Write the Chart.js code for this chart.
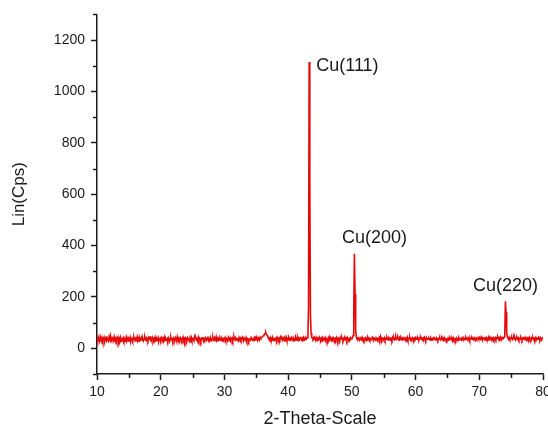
<!DOCTYPE html>
<html><head><meta charset="utf-8">
<script src="https://cdn.jsdelivr.net/npm/chart.js@4.4.0/dist/chart.umd.min.js"></script>
<style>html,body{margin:0;padding:0;background:#fff}canvas{display:block}</style>
</head><body>
<canvas id="c" width="548" height="430"></canvas>
<script>
// 2-theta grid: 10.0 .. 80.0 deg, step 0.1 deg (one row = one degree)
const startAngle = 10.0;
const stepAngle = 0.1;
const intensity = [
38,29,43,35,28,45,36,32,41,29,
35,42,27,37,46,31,40,34,29,44,
36,49,32,28,41,37,30,45,35,31,
40,29,36,43,26,38,32,42,28,36,
34,41,30,37,27,35,44,31,38,29,
37,32,42,28,36,40,30,35,43,34,
29,38,35,45,31,37,28,41,34,36,
42,32,38,29,36,44,35,30,40,37,
31,41,35,47,33,38,29,42,36,32,
40,35,43,30,37,33,41,28,36,39,
32,42,36,29,40,35,44,31,38,33,
37,30,41,35,27,38,43,33,36,29,
40,35,32,42,37,29,45,36,31,38,
33,41,36,30,38,44,32,37,28,40,
36,31,42,38,33,29,41,35,43,32,
38,35,30,44,36,41,33,37,29,42,
32,40,36,28,38,35,43,30,37,33,
41,36,32,40,46,31,37,35,42,29,
35,38,43,33,30,40,36,45,32,37,
30,37,33,41,36,31,40,35,27,38,
36,42,32,38,35,29,43,37,33,40,
32,36,41,30,38,45,35,31,40,36,
38,33,29,42,36,40,32,37,43,35,
30,40,36,33,41,31,38,35,28,37,
36,32,42,38,35,30,37,41,33,40,
35,38,31,41,36,34,43,39,41,44,
44,49,50,56,57,61,54,51,45,42,
40,36,42,33,38,32,41,36,30,37,
35,40,32,42,37,29,38,33,43,36,
38,32,41,36,30,40,35,44,33,37,
33,42,36,31,38,35,41,37,29,40,
36,32,43,37,33,40,30,38,35,41,
37,33,40,36,42,32,38,35,41,37,
41,45,160,1115,640,130,60,44,39,36,
41,35,38,32,42,36,40,33,37,43,
36,32,40,35,41,31,38,36,42,33,
38,35,30,41,36,44,33,37,32,40,
35,41,37,31,38,33,42,36,29,40,
37,32,41,36,43,35,30,38,33,41,
36,40,32,42,37,33,38,35,41,36,
38,41,50,140,368,210,70,44,38,35,
40,36,32,41,37,33,42,35,38,31,
37,41,35,38,32,42,36,40,33,37,
35,38,43,36,32,40,37,33,41,36,
38,33,37,42,35,46,36,32,40,37,
36,41,32,38,35,43,37,33,40,36,
40,35,38,32,42,36,41,33,37,44,
35,38,43,36,32,40,35,42,37,33,
38,35,41,37,32,40,36,43,33,38,
36,42,33,38,35,41,37,32,40,36,
41,35,38,44,36,33,40,37,42,35,
37,33,40,36,43,38,32,41,35,37,
35,40,36,32,41,37,33,38,36,42,
38,33,37,41,35,31,38,36,40,33,
36,40,33,37,32,41,35,38,36,31,
37,32,38,35,41,36,33,37,30,40,
33,38,36,31,40,35,37,32,41,36,
38,35,32,41,36,33,40,37,35,42,
36,40,35,37,43,33,38,36,41,35,
37,33,41,36,32,40,35,38,42,36,
35,40,36,44,37,33,41,38,35,40,
37,42,35,38,33,41,36,43,37,35,
40,36,41,33,38,42,35,40,37,43,
36,41,37,44,38,35,42,39,39,44,
52,183,140,62,45,40,37,43,36,40,
37,42,35,40,44,36,41,33,38,42,
36,41,33,38,35,43,37,32,40,36,
38,35,42,37,33,41,36,40,35,43,
37,33,40,36,42,35,38,32,41,36,
40,35,38,43,36,33,41,37,35,40,
37
];
const twoTheta = intensity.map((_, i) => +(startAngle + i * stepAngle).toFixed(1));

const xMajorTicks = [10, 20, 30, 40, 50, 60, 70, 80];
const xMinorTicks = [15, 25, 35, 45, 55, 65, 75];
const yMajorTicks = [0, 200, 400, 600, 800, 1000, 1200];
const yMinorTicks = [-100, 100, 300, 500, 700, 900, 1100, 1300];

const peakLabels = ['Cu(111)', 'Cu(200)', 'Cu(220)'];
const peakLabelAngle = [49.3, 53.55, 74.1];
const peakLabelLevel = [1100, 431, 242];

const FONT = '"Liberation Sans", Arial, sans-serif';
const AXIS = '#1c1c1c';
const TEXT = '#1a1a1a';

const minorTickPlugin = {
  id: 'minorTicks',
  afterDraw(chart) {
    const c = chart.ctx, xs = chart.scales.x, ys = chart.scales.y;
    c.save();
    c.strokeStyle = AXIS; c.lineWidth = 1.5;
    c.beginPath();
    xMinorTicks.forEach(v => { const p = Math.round(xs.getPixelForValue(v)) + 0.5; c.moveTo(p, xs.top); c.lineTo(p, xs.top + 4); });
    yMinorTicks.forEach(v => { const p = Math.round(ys.getPixelForValue(v)) + 0.5; c.moveTo(ys.right, p); c.lineTo(ys.right - 4, p); });
    c.stroke();
    c.restore();
  }
};

const peakLabelPlugin = {
  id: 'peakLabels',
  afterDatasetsDraw(chart) {
    const c = chart.ctx, xs = chart.scales.x, ys = chart.scales.y;
    c.save();
    c.fillStyle = TEXT;
    c.font = '18px ' + FONT;
    c.textAlign = 'center'; c.textBaseline = 'middle';
    peakLabels.forEach((t, i) => c.fillText(t, xs.getPixelForValue(peakLabelAngle[i]), ys.getPixelForValue(peakLabelLevel[i])));
    c.restore();
  }
};

new Chart(document.getElementById('c'), {
  type: 'line',
  data: {
    datasets: [{
      data: twoTheta.map((x, i) => ({ x, y: intensity[i] })),
      borderColor: 'rgb(230,8,8)',
      borderWidth: 1.6,
      pointRadius: 0,
      fill: false,
      tension: 0
    }]
  },
  options: {
    responsive: false,
    animation: false,
    devicePixelRatio: 1,
    layout: { padding: { top: 10, right: 5, left: 0, bottom: 0 } },
    plugins: { legend: { display: false }, tooltip: { enabled: false } },
    scales: {
      x: {
        type: 'linear', min: 10, max: 80,
        afterBuildTicks: s => { s.ticks = xMajorTicks.map(v => ({ value: v })); },
        afterFit: s => { s.height = 56; s.paddingLeft = 0; s.paddingRight = 0; },
        grid: { drawOnChartArea: false, drawTicks: true, tickLength: 6, tickColor: AXIS, tickWidth: 1.5 },
        border: { display: true, color: AXIS, width: 1.5 },
        ticks: { color: TEXT, font: { family: FONT, size: 14 }, padding: 4, maxRotation: 0, autoSkip: false, callback: v => String(v) },
        title: { display: true, text: '2-Theta-Scale', color: TEXT, font: { family: FONT, size: 18 }, padding: { top: 0, bottom: 0 } }
      },
      y: {
        min: -100, max: 1300,
        afterBuildTicks: s => { s.ticks = yMajorTicks.map(v => ({ value: v })); },
        afterFit: s => { s.width = 97; },
        grid: { drawOnChartArea: false, drawTicks: true, tickLength: 6, tickColor: AXIS, tickWidth: 1.5 },
        border: { display: true, color: AXIS, width: 1.5 },
        ticks: { color: TEXT, font: { family: FONT, size: 14 }, padding: 6, autoSkip: false, callback: v => String(v) },
        title: { display: true, text: 'Lin(Cps)', color: TEXT, font: { family: FONT, size: 17 }, padding: { top: 9, bottom: 0 } }
      }
    }
  },
  plugins: [minorTickPlugin, peakLabelPlugin]
});
</script>
</body></html>
